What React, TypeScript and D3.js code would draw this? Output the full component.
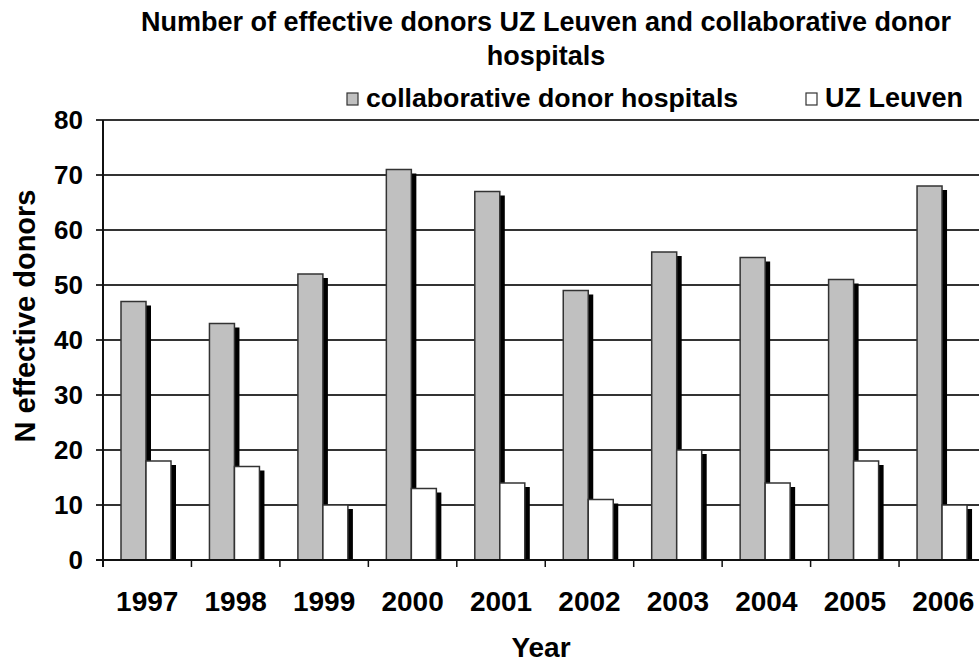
import * as d3 from 'd3';

const years = ['1997', '1998', '1999', '2000', '2001', '2002', '2003', '2004', '2005', '2006'];
const collaborative = [47, 43, 52, 71, 67, 49, 56, 55, 51, 68];
const uzLeuven = [18, 17, 10, 13, 14, 11, 20, 14, 18, 10];
const yTicks = [0, 10, 20, 30, 40, 50, 60, 70, 80];

const W = 979;
const H = 664;
const X0 = 103;
const X1 = 987.5; // plot runs past the right edge, like the original
const Y0 = 560;
const Y1 = 120;
const BAR_W = 25;
const BAR_PAD = 18; // space from band start to first bar
const SHADOW_DX = 5;
const SHADOW_DY = 4;
const FONT = 'Arial, "Liberation Sans", sans-serif';

export default function App() {
    const x = d3.scaleBand<string>().domain(years).range([X0, X1]);
    const y = d3.scaleLinear().domain([0, 80]).range([Y0, Y1]);

    const series = [
        { name: 'collaborative donor hospitals', values: collaborative, fill: '#c0c0c0', off: 0 },
        { name: 'UZ Leuven', values: uzLeuven, fill: '#ffffff', off: BAR_W },
    ];

    const bars = series.flatMap(s =>
        years.map((yr, i) => ({
            key: s.name + yr,
            x: (x(yr) as number) + BAR_PAD + s.off,
            y: y(s.values[i]),
            h: Y0 - y(s.values[i]),
            fill: s.fill,
        }))
    );

    return (
        <svg width={W} height={H} style={{ position: 'absolute', left: 0, top: 0, background: '#fff' }}
            fontFamily={FONT} fontWeight="bold">
            {/* title */}
            <text x={546} y={31} textAnchor="middle" fontSize={27}>
                Number of effective donors UZ Leuven and collaborative donor
            </text>
            <text x={546} y={65} textAnchor="middle" fontSize={27}>hospitals</text>

            {/* legend */}
            <rect x={347} y={93} width={11} height={12} fill="#c0c0c0" stroke="#333" strokeWidth={1.2} />
            <text x={366} y={107} fontSize={26.7}>collaborative donor hospitals</text>
            <rect x={806} y={93} width={11} height={12} fill="#fff" stroke="#333" strokeWidth={1.2} />
            <text x={825} y={107} fontSize={27}>UZ Leuven</text>

            {/* gridlines + y ticks */}
            {yTicks.map(t => (
                <g key={t}>
                    <line x1={96} x2={W} y1={y(t)} y2={y(t)} stroke="#333" strokeWidth={t === 0 ? 2 : 1.8} />
                    <text x={83} y={y(t)} dy="0.35em" textAnchor="end" fontSize={26}>{t}</text>
                </g>
            ))}

            {/* shadows first, then the bars over them */}
            {bars.map(b => (
                <rect key={'s' + b.key} x={b.x + SHADOW_DX} y={b.y + SHADOW_DY}
                    width={BAR_W} height={Math.max(0, b.h - SHADOW_DY)} fill="#000" />
            ))}
            {bars.map(b => (
                <rect key={b.key} x={b.x} y={b.y} width={BAR_W} height={b.h}
                    fill={b.fill} stroke="#333" strokeWidth={1.5} />
            ))}

            {/* axes */}
            <line x1={X0} x2={X0} y1={Y1} y2={Y0 + 7} stroke="#111" strokeWidth={2} />
            <line x1={96} x2={W} y1={Y0} y2={Y0} stroke="#111" strokeWidth={2} />
            {years.map(yr => (
                <line key={'t' + yr} x1={x(yr) as number} x2={x(yr) as number} y1={Y0} y2={Y0 + 7}
                    stroke="#111" strokeWidth={1.5} />
            ))}
            {years.map(yr => (
                <text key={'l' + yr} x={(x(yr) as number) + x.bandwidth() / 2} y={611}
                    textAnchor="middle" fontSize={28}>{yr}</text>
            ))}

            {/* axis titles */}
            <text x={541} y={657} textAnchor="middle" fontSize={28}>Year</text>
            <text transform="translate(35, 316) rotate(-90)" textAnchor="middle" fontSize={29}>
                N effective donors
            </text>
        </svg>
    );
}
